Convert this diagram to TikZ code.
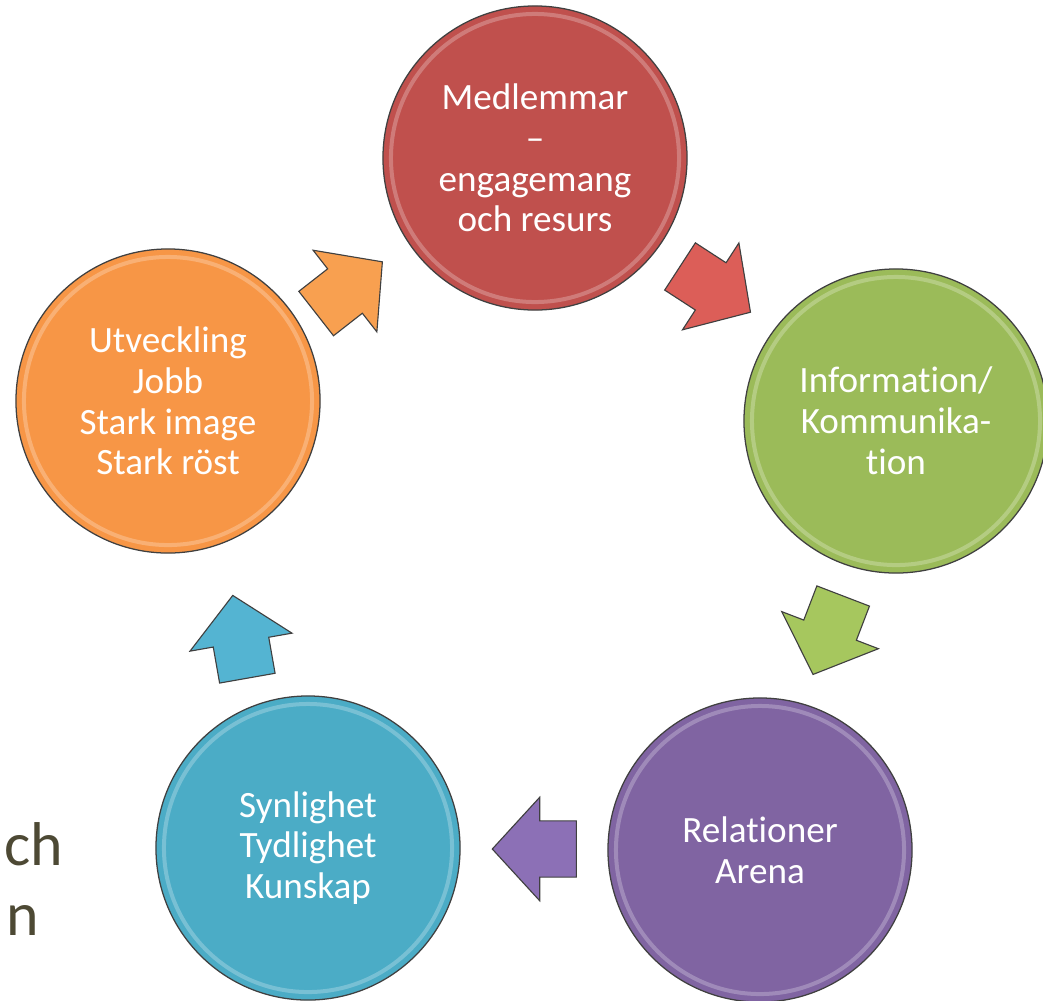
\documentclass[tikz,border=0pt]{standalone}
\usepackage{fontspec}
\setmainfont{Carlito}[Ligatures=CommonOff]
\usetikzlibrary{shapes.arrows,calc}

\definecolor{redc}{HTML}{C0504D}
\definecolor{greenc}{HTML}{9BBB59}
\definecolor{purplec}{HTML}{8064A2}
\definecolor{bluec}{HTML}{4BACC6}
\definecolor{orangec}{HTML}{F79646}
\definecolor{reda}{HTML}{DC5E58}
\definecolor{greena}{HTML}{A6C75E}
\definecolor{purplea}{HTML}{8C70B6}
\definecolor{bluea}{HTML}{54B4D2}
\definecolor{orangea}{HTML}{F8A050}
\definecolor{olive}{HTML}{4D4934}

\tikzset{
  phase/.style={shape=circle, draw=black!75, line width=0.9pt, minimum size=7.6cm,
    inner sep=0pt, text=white, align=center,
    font=\fontsize{26.4}{29}\selectfont,
    path picture={\draw[white, opacity=0.25, line width=1mm]
      (path picture bounding box.center) circle[radius=3.6cm];}},
  blockarrow/.style={shape=single arrow, draw=black!75, line width=0.8pt,
    minimum height=2.1cm, inner xsep=0pt, inner ysep=0.69cm,
    single arrow head extend=0.59cm, single arrow tip angle=95}
}

\begin{document}
\begin{tikzpicture}[x=0.025cm, y=-0.025cm]
\useasboundingbox (0,0) rectangle (1043,1000);

\node [phase, fill=redc] (Members) at (535,158) {Medlemmar\\–\\engagemang\\och resurs};
\node [phase, fill=greenc] (Info) at (896,421) {Information/\\Kommunika-\\tion};
\node [phase, fill=purplec] (Relations) at (760,850) {Relationer\\Arena};
\node [phase, fill=bluec] (Visible) at (308,848) {Synlighet\\Tydlighet\\Kunskap};
\node [phase, fill=orangec] (Growth) at (168,401) {Utveckling\\Jobb\\Stark image\\Stark röst};

\node [blockarrow, fill=reda, rotate=-33, xshift=-0.33cm] (MI) at ($(Members)!0.5!(Info)$) {};
\node [blockarrow, fill=greena, rotate=-111, xshift=-0.33cm] (IR) at ($(Info)!0.5!(Relations)$) {};
\node [blockarrow, fill=purplea, rotate=180, xshift=-0.33cm] (RV) at ($(Relations)!0.5!(Visible)$) {};
\node [blockarrow, fill=bluea, rotate=100, xshift=-0.33cm] (VG) at ($(Visible)!0.5!(Growth)+(2,12)$) {};
\node [blockarrow, fill=orangea, rotate=38, xshift=-0.33cm] (GM) at ($(Growth)!0.5!(Members)+(-2,8)$) {};

% cut-off words at the left edge
\node [anchor=base west, inner sep=0pt, text=olive, font=\fontsize{44}{50}\selectfont] (och) at (4,865) {ch};
\node [anchor=base west, inner sep=0pt, text=olive, font=\fontsize{44}{50}\selectfont] (word) at (6,935) {n};
\end{tikzpicture}
\end{document}
